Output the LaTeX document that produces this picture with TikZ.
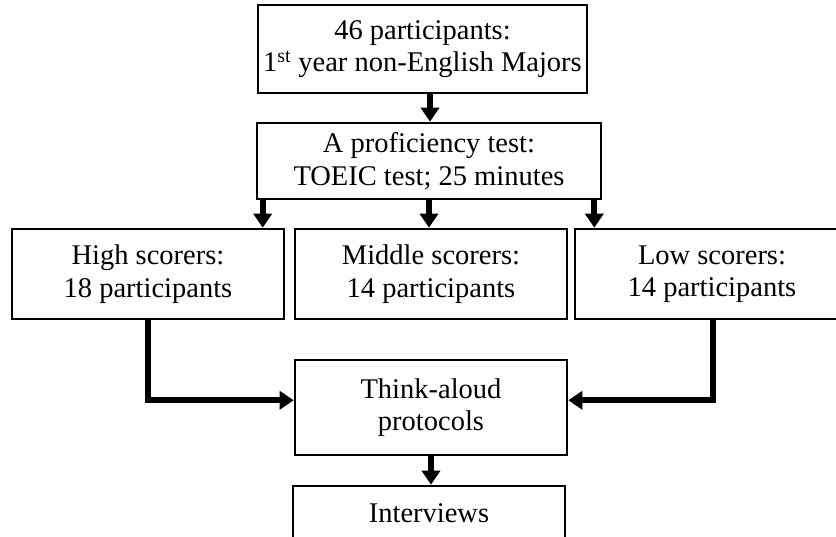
\documentclass[tikz,border=0pt]{standalone}
\usepackage{fontspec}
\setmainfont{Liberation Serif}
\usetikzlibrary{arrows.meta,calc}
\begin{document}
\begin{tikzpicture}[x=1pt,y=1pt,
  box/.style={draw, line width=2.6pt, align=center, inner sep=0pt,
    font=\fontsize{28.5}{32.5}\selectfont, minimum width=272pt},
  arr/.style={line width=6pt, -{Triangle[width=18pt,length=14pt]}}]
\useasboundingbox (0,0) rectangle (836,537);
\clip (0,0) rectangle (836,537);
\node[box, minimum width=329pt, minimum height=88pt] (top) at (422.5,488) {46 participants:\\1\textsuperscript{st} year non-English Majors};
\node[box, minimum width=344pt, minimum height=76pt] (prof) at (429,376) {A proficiency test:\\TOEIC test; 25 minutes};
\node[box, minimum height=90pt] (high) at (148,263) {High scorers:\\18 participants};
\node[box, minimum height=90pt] (mid) at (431,263) {Middle scorers:\\14 participants};
\node[box, minimum width=274pt, minimum height=90pt] (low) at (712,263) {Low scorers:\\14 participants};
\node[box, minimum height=95pt] (think) at (431,129.5) {Think-aloud\\protocols};
\node[box, minimum height=54pt] (intv) at (429,24) {Interviews};
\coordinate (a1) at ($(prof.north)+(1,0)$);
\draw[arr] (a1 |- top.south) -- (a1);
\coordinate (p1) at ($(prof.south west)+(7,0)$);
\draw[arr] (p1) -- (p1 |- high.north);
\draw[arr] (prof.south) -- (prof.south |- mid.north);
\coordinate (p3) at ($(prof.south east)+(-8,0)$);
\draw[arr] (p3) -- (p3 |- low.north);
\coordinate (hc) at ($(high.south)+(0,-80)$);
\draw[arr] (high.south) -- (hc) -- (hc -| think.west);
\coordinate (lb) at ($(low.south)+(1,0)$);
\coordinate (lc) at ($(lb)+(0,-80)$);
\draw[arr] (lb) -- (lc) -- (lc -| think.east);
\draw[arr] (think.south) -- (think.south |- intv.north);
\end{tikzpicture}
\end{document}
